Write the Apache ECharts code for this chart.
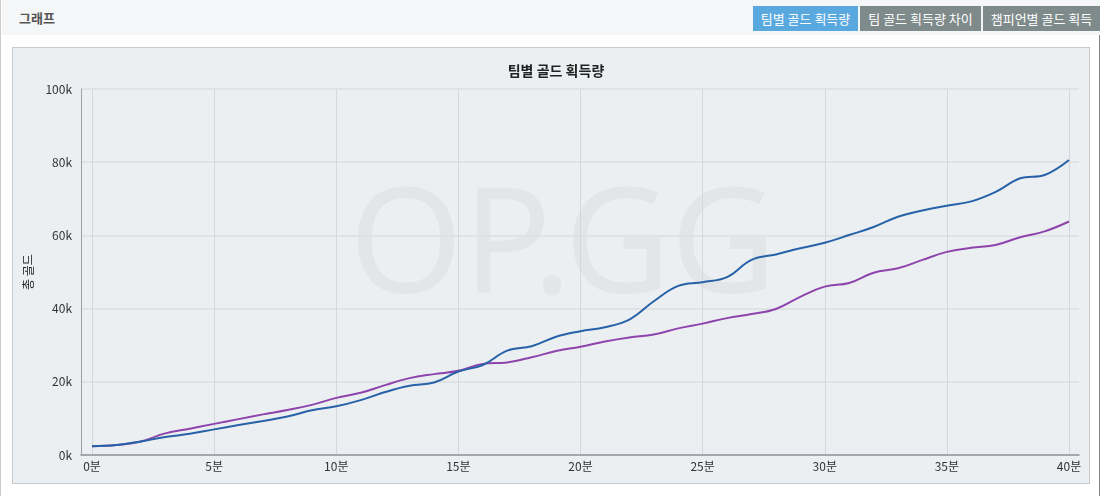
<!DOCTYPE html>
<html>
<head>
<meta charset="utf-8">
<script src="https://cdn.jsdelivr.net/npm/echarts@6/dist/echarts.min.js"></script>
<style>
    body { margin: 0; background: #fff; font-family: 'Noto Sans CJK KR', sans-serif; }
    .box { position: absolute; left: 0; top: 0; width: 1100px; height: 496px; border-left: 1px solid #ccc; border-right: 1px solid #888; box-sizing: border-box; }
    .head { position: absolute; left: 1px; top: 0; width: 1098px; height: 35px; background: #f5f6f7; }
    .head .ttl { position: absolute; left: 17px; top: 8px; font-size: 13px; color: #555; font-weight: bold; }
    .btn { position: absolute; top: 6px; height: 25px; line-height: 25px; color: #fff; font-size: 13px; text-align: center; }
    .panel { position: absolute; left: 12px; top: 47px; width: 1078px; height: 437px; border: 1px solid #c8cbcd; background: #eceff1; box-sizing: border-box; }
    #chart { position: absolute; left: 0; top: 0; width: 1103px; height: 496px; }
</style>
</head>
<body>
<div class="box">
    <div class="head">
        <div class="ttl">그래프</div>
        <div class="btn" style="left:751px;width:105px;background:#5aa9de;">팀별 골드 획득량</div>
        <div class="btn" style="left:858px;width:121px;background:#7f8a8b;">팀 골드 획득량 차이</div>
        <div class="btn" style="left:981px;width:117px;background:#7f8a8b;">챔피언별 골드 획득</div>
    </div>
</div>
<div class="panel"></div>
<div id="chart"></div>

<script>
// 분 단위 (0~40분)
const minutes = [];
for (let i = 0; i <= 40; i++) minutes.push(i);

// 블루팀 골드 (k)
const blueGold = [2.4, 2.7, 3.7, 4.9, 5.8, 7.0, 8.2, 9.3, 10.5, 12.2, 13.3,
    15.0, 17.2, 18.9, 19.8, 22.8, 24.6, 28.5, 29.7, 32.3, 33.8,
    34.9, 37.0, 42.0, 46.2, 47.2, 48.6, 53.3, 54.8, 56.5, 58.0,
    60.1, 62.3, 65.1, 66.8, 68.1, 69.3, 71.9, 75.6, 76.5, 80.6];
// 퍼플팀 골드 (k)
const purpleGold = [2.4, 2.7, 3.7, 5.9, 7.2, 8.5, 9.8, 11.1, 12.3, 13.7, 15.6,
    17.0, 19.1, 21.0, 22.1, 23.0, 24.9, 25.3, 26.7, 28.4, 29.6,
    31.0, 32.1, 32.9, 34.6, 35.9, 37.4, 38.5, 39.9, 43.2, 46.0,
    47.0, 49.8, 51.0, 53.3, 55.5, 56.6, 57.4, 59.5, 61.1, 63.8];

const yTicks = [0, 20000, 40000, 60000, 80000, 100000];

const toPairs = arr => arr.map((v, i) => [minutes[i], Math.round(v * 1000)]);

const font = 'Noto Sans CJK KR';
const chart = echarts.init(document.getElementById('chart'));

chart.setOption({
    animation: false,
    textStyle: { fontFamily: font },
    title: {
        text: '팀별 골드 획득량',
        left: 551,
        textAlign: 'center',
        top: 59,
        textStyle: { fontSize: 14, fontWeight: 'bold', color: '#222', fontFamily: font }
    },
    // 워터마크
    graphic: [{
        type: 'text',
        left: 349,
        top: 178,
        z: 0,
        silent: true,
        style: {
            text: 'OP.GG',
            fontSize: 146,
            fontFamily: 'Noto Sans',
            fill: '#e3e6e8'
        }
    }],
    grid: [
        // 가로 그리드/축선용 (넓은 영역)
        { left: 81, right: 24, top: 89, bottom: 41 },
        // 데이터용
        { left: 92, right: 34, top: 89, bottom: 41 }
    ],
    xAxis: [{
        gridIndex: 0,
        type: 'value',
        min: 0,
        max: 10,
        axisLine: { show: true, lineStyle: { color: '#8f959a', width: 1.5 } },
        axisTick: { show: false },
        axisLabel: { show: false },
        splitLine: { show: false }
    }, {
        gridIndex: 1,
        type: 'value',
        min: 0,
        max: 40,
        interval: 5,
        axisLine: { show: false },
        axisTick: { show: false },
        axisLabel: { color: '#333', fontSize: 12, margin: 5, formatter: '{value}분' },
        splitLine: { show: true, lineStyle: { color: '#d3d8dc', width: 1 } }
    }],
    yAxis: [{
        gridIndex: 0,
        type: 'value',
        min: yTicks[0],
        max: yTicks[yTicks.length - 1],
        interval: 20000,
        name: '총 골드',
        nameLocation: 'middle',
        nameGap: 45,
        nameRotate: 90,
        nameTextStyle: { color: '#222', fontSize: 12 },
        axisLine: { show: true, lineStyle: { color: '#9aa0a5' } },
        axisTick: { show: false },
        axisLabel: { color: '#333', fontSize: 12, margin: 9, formatter: v => (v / 1000) + 'k' },
        splitLine: { show: true, lineStyle: { color: '#dbdfe2', width: 1.5 } }
    }, {
        gridIndex: 1,
        type: 'value',
        min: 0,
        max: 100000,
        show: false
    }],
    series: [{
        name: '블루팀',
        type: 'line',
        xAxisIndex: 1,
        yAxisIndex: 1,
        data: toPairs(blueGold),
        smooth: 0.4,
        symbol: 'none',
        z: 3,
        lineStyle: { color: '#2762a8', width: 2 }
    }, {
        name: '퍼플팀',
        type: 'line',
        xAxisIndex: 1,
        yAxisIndex: 1,
        data: toPairs(purpleGold),
        smooth: 0.4,
        symbol: 'none',
        z: 2,
        lineStyle: { color: '#8e44ad', width: 2 }
    }]
});
</script>
</body>
</html>
